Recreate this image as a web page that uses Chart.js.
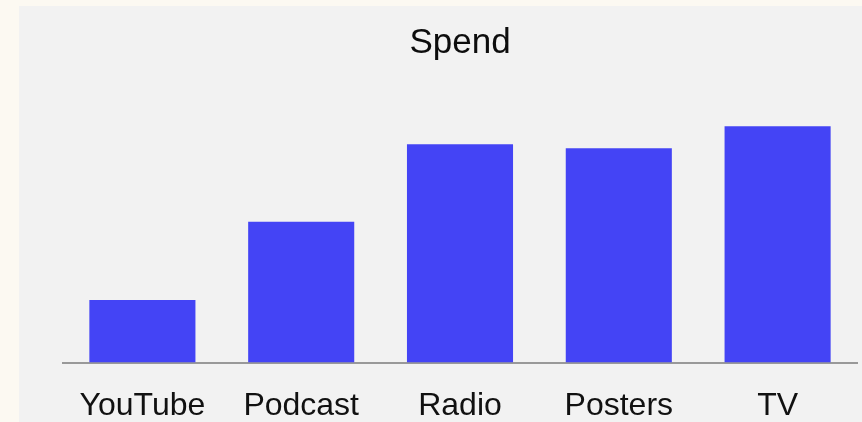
<!DOCTYPE html>
<html>
<head>
<meta charset="utf-8">
<script src="https://cdn.jsdelivr.net/npm/chart.js@4"></script>
<style>
  html, body { margin: 0; padding: 0; background: #fcf9f2; }
  #panel { position: absolute; left: 19px; top: 6px; width: 843px; height: 416px; background: #f2f2f2; }
  canvas { display: block; }
</style>
</head>
<body>
<div id="panel"><canvas id="c" width="843" height="416"></canvas></div>
<script>
const categories = ["YouTube", "Podcast", "Radio", "Posters", "TV"];
const spend = [8, 18, 27.9, 27.4, 30.2];
const yMax = 36;

new Chart(document.getElementById('c'), {
  type: 'bar',
  data: {
    labels: categories,
    datasets: [{
      label: 'Spend',
      data: spend,
      backgroundColor: '#4444f5',
      borderWidth: 0,
      categoryPercentage: 1,
      barPercentage: 0.668
    }]
  },
  options: {
    responsive: false,
    animation: false,
    layout: { padding: { left: 44, right: 5, top: 0, bottom: -27 } },
    plugins: {
      legend: { display: false },
      tooltip: { enabled: false },
      title: {
        display: true,
        text: 'Spend',
        color: '#0d0d0d',
        font: { family: 'Liberation Sans', size: 35, weight: 'normal' },
        padding: { top: 16, bottom: 17 }
      }
    },
    scales: {
      x: {
        grid: { display: false, drawTicks: false },
        border: { display: true, color: '#999', width: 2 },
        ticks: { color: '#111', font: { family: 'Liberation Sans', size: 32 }, padding: 24 }
      },
      y: {
        display: false,
        min: 0,
        max: yMax
      }
    }
  }
});
</script>
</body>
</html>
